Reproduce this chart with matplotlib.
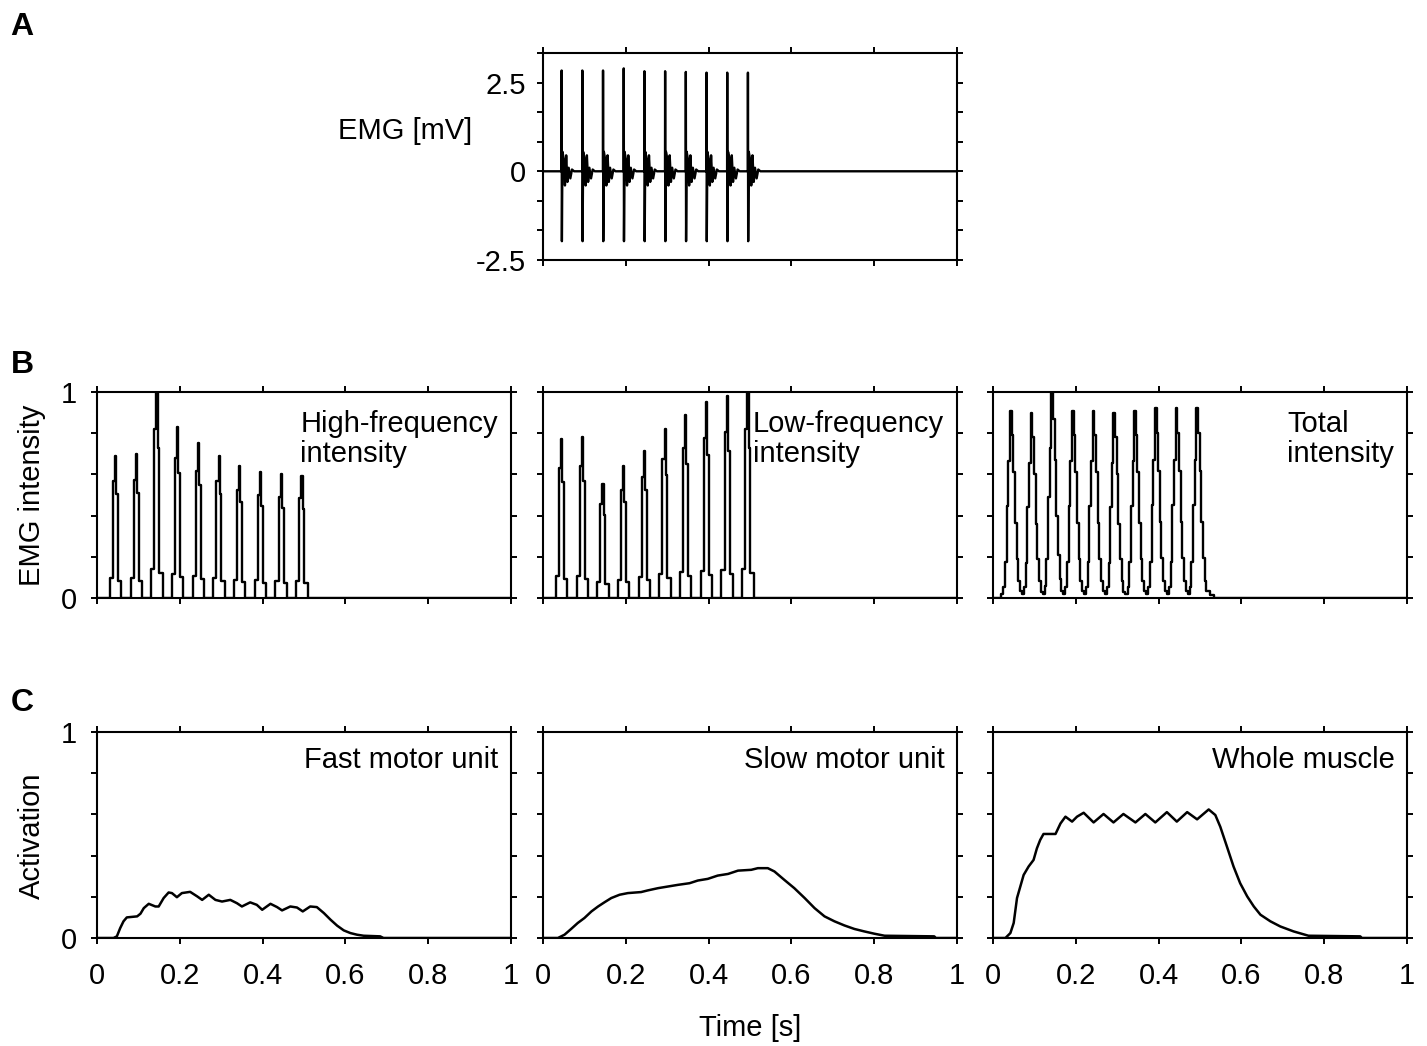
import matplotlib
matplotlib.use('Agg')
import matplotlib.pyplot as plt

plt.rcParams['font.family'] = ['Liberation Sans', 'DejaVu Sans']
plt.rcParams['font.size'] = 21

# ---- data ----
# burst (spike) times [s], shared by panels A and B
spike_times = [0.045, 0.095, 0.145, 0.195, 0.245, 0.295, 0.345, 0.395, 0.445, 0.495]

# A: raw EMG, one action potential per burst
emg_tops = [2.84, 2.84, 2.84, 2.9, 2.82, 2.82, 2.8, 2.78, 2.78, 2.78]
emg_bottom = -1.97
muap_offsets_ms = [-2.0, -0.3, 0.0, 0.6, 2.0, 5.0, 8.0, 11.0, 14.0, 17.0, 21.0, 25.0, 30.0]
muap_wave = [0.0, 0.0, None, None, 0.55, 0.35, -0.4, 0.45, -0.3, 0.1, -0.2, 0.05, 0.0]

# B: intensities (peak heights per burst)
hf_peaks = [0.69, 0.70, 1.0, 0.83, 0.75, 0.69, 0.64, 0.61, 0.60, 0.59]
lf_peaks = [0.77, 0.78, 0.555, 0.64, 0.715, 0.82, 0.89, 0.95, 0.98, 1.0]
total_peaks = [0.91, 0.90, 1.0, 0.91, 0.91, 0.90, 0.91, 0.92, 0.92, 0.92]
burst_offsets_ms = [-14, -6.5, -1.5, 1.5, 5.5, 13.5]
burst_shape = [0.14, 0.82, 1.0, 0.73, 0.12, 0.0]
total_offsets_ms = [-25, -20, -16, -12, -8, -4, 0, 4, 8, 12, 16, 20]
total_shape = [0.02, 0.06, 0.19, 0.49, 0.73, 1.0, 0.87, 0.67, 0.4, 0.21, 0.09, 0.035]
total_tail_t = [0.525, 0.535]
total_tail_v = [0.015, 0.0]

# C: activation
fast_t = [0, 0.04, 0.048, 0.056, 0.064, 0.072, 0.097, 0.105, 0.113, 0.125, 0.141, 0.149,
          0.161, 0.173, 0.181, 0.193, 0.205, 0.225, 0.242, 0.254, 0.27, 0.286, 0.302,
          0.322, 0.338, 0.35, 0.37, 0.386, 0.399, 0.419, 0.435, 0.447, 0.467, 0.483,
          0.497, 0.515, 0.531, 0.548, 0.564, 0.58, 0.596, 0.612, 0.628, 0.644, 0.684,
          0.692, 1.0]
fast_a = [0, 0, 0.008, 0.048, 0.081, 0.10, 0.105, 0.118, 0.145, 0.166, 0.153, 0.153,
          0.194, 0.221, 0.218, 0.198, 0.218, 0.224, 0.202, 0.185, 0.21, 0.185, 0.177,
          0.185, 0.169, 0.153, 0.173, 0.161, 0.137, 0.166, 0.15, 0.134, 0.153, 0.148,
          0.129, 0.153, 0.15, 0.121, 0.089, 0.06, 0.037, 0.024, 0.016, 0.011, 0.008,
          0, 0]
slow_t = [0, 0.036, 0.052, 0.068, 0.084, 0.1, 0.117, 0.133, 0.149, 0.165, 0.185, 0.205,
          0.237, 0.253, 0.278, 0.302, 0.326, 0.354, 0.374, 0.398, 0.422, 0.447, 0.471,
          0.503, 0.519, 0.543, 0.559, 0.583, 0.607, 0.632, 0.656, 0.68, 0.704, 0.728,
          0.752, 0.776, 0.80, 0.825, 0.945, 0.949, 1.0]
slow_a = [0, 0, 0.016, 0.044, 0.073, 0.097, 0.129, 0.153, 0.174, 0.194, 0.21, 0.218,
          0.223, 0.231, 0.242, 0.25, 0.258, 0.266, 0.279, 0.287, 0.303, 0.311, 0.327,
          0.331, 0.339, 0.339, 0.323, 0.282, 0.242, 0.194, 0.145, 0.105, 0.081, 0.061,
          0.044, 0.032, 0.021, 0.011, 0.008, 0, 0]
whole_t = [0, 0.03, 0.042, 0.05, 0.058, 0.066, 0.074, 0.086, 0.098, 0.106, 0.114, 0.122,
           0.151, 0.163, 0.175, 0.191, 0.203, 0.219, 0.243, 0.267, 0.291, 0.315, 0.344,
           0.368, 0.392, 0.42, 0.444, 0.469, 0.493, 0.521, 0.537, 0.549, 0.565, 0.581,
           0.597, 0.614, 0.63, 0.646, 0.67, 0.694, 0.726, 0.762, 0.887, 0.891, 1.0]
whole_a = [0, 0, 0.024, 0.073, 0.194, 0.25, 0.306, 0.347, 0.379, 0.435, 0.476, 0.505,
           0.505, 0.556, 0.589, 0.565, 0.589, 0.608, 0.561, 0.602, 0.561, 0.602, 0.561,
           0.602, 0.561, 0.611, 0.565, 0.611, 0.576, 0.624, 0.597, 0.54, 0.444, 0.347,
           0.266, 0.202, 0.153, 0.113, 0.081, 0.056, 0.032, 0.011, 0.008, 0, 0]

b_titles = ['High-frequency\nintensity', 'Low-frequency\nintensity', 'Total\nintensity']
c_titles = ['Fast motor unit', 'Slow motor unit', 'Whole muscle']
time_ticks = [0, 0.2, 0.4, 0.6, 0.8, 1.0]
time_labels = ['0', '0.2', '0.4', '0.6', '0.8', '1']
unit_ticks = [0, 0.2, 0.4, 0.6, 0.8, 1.0]
unit_labels = ['0', '', '', '', '', '1']
emg_ticks = [-2.5, -2.5 + 2.5 / 3, -2.5 + 5 / 3, 0, 2.5 / 3, 5 / 3, 2.5, 2.5 + 2.5 / 3]
emg_labels = ['-2.5', '', '', '0', '', '', '2.5', '']


def train(times, heights, offs_ms, shape):
    t, y = [0.0], [0.0]
    for tp, h in zip(times, heights):
        for o, s in zip(offs_ms, shape):
            t.append(tp + o / 1000)
            y.append(h * s)
    return t, y


def style(ax, ypad=10):
    for s in ax.spines.values():
        s.set_linewidth(1.5)
    ax.tick_params(direction='out', length=4.5, width=1.4, top=True, right=True,
                   labelsize=21)
    ax.tick_params(axis='y', pad=ypad)
    ax.tick_params(axis='x', pad=13)
    ax.set_xlim(0, 1)
    ax.set_xticks(time_ticks)
    ax.set_xticklabels([])


fig = plt.figure(figsize=(14.27, 10.46), dpi=100)
W, H = 1427, 1046
cols = [97, 543, 993]
aw = 414

# ---- A ----
axA = fig.add_axes([543 / W, 1 - 260 / H, aw / W, 207 / H])
style(axA, ypad=8)
emg_t, emg_v = [0.0], [0.0]
for tp, top in zip(spike_times, emg_tops):
    wave = list(muap_wave)
    wave[2] = top
    wave[3] = emg_bottom
    for o, v in zip(muap_offsets_ms, wave):
        emg_t.append(tp + o / 1000)
        emg_v.append(v)
emg_t.append(1.0)
emg_v.append(0.0)
axA.plot(emg_t, emg_v, color='black', lw=1.7)
axA.set_ylim(-2.5, 2.5 + 2.5 / 3)
axA.set_yticks(emg_ticks)
axA.set_yticklabels(emg_labels)
axA.text(-0.1715, 0.623, 'EMG [mV]', transform=axA.transAxes, ha='right', va='center',
         fontsize=21)

# ---- B ----
b_series = [train(spike_times, hf_peaks, burst_offsets_ms, burst_shape),
            train(spike_times, lf_peaks, burst_offsets_ms, burst_shape)]
tt, tv = train(spike_times, total_peaks, total_offsets_ms, total_shape)
b_series.append((tt + total_tail_t, tv + total_tail_v))

for i, (x0, (t, v), title) in enumerate(zip(cols, b_series, b_titles)):
    ax = fig.add_axes([x0 / W, 1 - 598 / H, aw / W, 206 / H])
    style(ax)
    t = list(t) + [1.0]
    v = list(v) + [v[-1]]
    ax.plot(t, v, color='black', lw=1.7, drawstyle='steps-post')
    ax.set_ylim(0, 1)
    ax.set_yticks(unit_ticks)
    ax.set_yticklabels(unit_labels if i == 0 else [])
    ax.text(0.968, 0.915, title, transform=ax.transAxes, ha='right', va='top',
            multialignment='left', fontsize=21, linespacing=1.12)

# ---- C ----
c_series = [(fast_t, fast_a), (slow_t, slow_a), (whole_t, whole_a)]
for i, (x0, (t, a), title) in enumerate(zip(cols, c_series, c_titles)):
    ax = fig.add_axes([x0 / W, 1 - 938 / H, aw / W, 206 / H])
    style(ax)
    ax.plot(t, a, color='black', lw=1.8)
    ax.set_ylim(0, 1)
    ax.set_yticks(unit_ticks)
    ax.set_yticklabels(unit_labels if i == 0 else [])
    ax.set_xticklabels(time_labels)
    ax.text(0.97, 0.93, title, transform=ax.transAxes, ha='right', va='top', fontsize=21)

fig.text(32 / W, 1 - 495 / H, 'EMG intensity', rotation=90, ha='center', va='center',
         fontsize=21)
fig.text(32 / W, 1 - 836 / H, 'Activation', rotation=90, ha='center', va='center',
         fontsize=21)
fig.text(750 / W, 1 - 1028 / H, 'Time [s]', ha='center', va='center', fontsize=21)

for lab, y in [('A', 27), ('B', 365), ('C', 703)]:
    fig.text(22 / W, 1 - y / H, lab, ha='center', va='center', fontsize=23,
             fontweight='bold')

fig.savefig('out.png', dpi=100)
